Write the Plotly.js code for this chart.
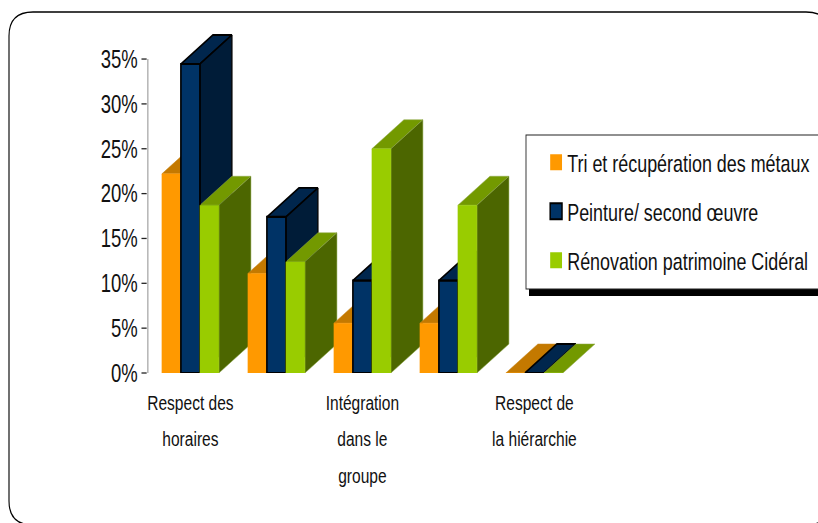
<!DOCTYPE html>
<html><head><meta charset="utf-8">
<script src="https://cdn.plot.ly/plotly-3.0.1.min.js"></script>
<style>html,body{margin:0;padding:0;background:#fff;overflow:hidden;width:818px;height:523px}
#c{width:1105px;height:523px;transform:scaleX(0.74027);transform-origin:0 0}</style>
</head><body><div id="c"></div>
<script>
const W = 818, H = 523, LAYOUT_W = 1105;
const catIdx = [0, 1, 2, 3, 4];
const tickVals = [0, 2, 4];
const yTicks = [0, 5, 10, 15, 20, 25, 30, 35];
const yTickText = ["0%", "5%", "10%", "15%", "20%", "25%", "30%", "35%"];
const tickLines = [["Respect des", "horaires"], ["Intégration", "dans le", "groupe"], ["Respect de", "la hiérarchie"]];
const seriesNames = ["Tri et récupération des métaux", "Peinture/ second œuvre", "Rénovation patrimoine Cidéral"];
const orange = [22.2, 11.1, 5.55, 5.55, 0];
const navy = [34.45, 17.4, 10.3, 10.3, 0];
const green = [18.7, 12.4, 25, 18.7, 0];
const colFront = ["#FF9900", "#003366", "#99CC00"];
const colTop = ["#C47900", "#00264D", "#739900"];
const colSide = ["#7F4C00", "#001C38", "#4C6600"];
const colEdge = ["#C98A20", "#000000", "#8FA84A"];
const edgeW = [0.6, 1.8, 0.6];
const seriesVals = [orange, navy, green];

const barW = 0.221, depthX = 32 / 86, depthY = 29 / 8.97;
const FONT = '"Liberation Sans",Arial,sans-serif';
const traces = [];
catIdx.forEach(c => {
  seriesVals.forEach((vals, s) => {
    const x0 = c + (s - 1.5) * barW, x1 = x0 + barW, v = vals[c];
    traces.push({type:'scatter', mode:'lines', fill:'toself', fillcolor:colTop[s], hoverinfo:'skip', showlegend:false,
      line:{color:colEdge[s], width:edgeW[s]},
      x:[x0, x1, x1+depthX, x0+depthX, x0], y:[v, v, v+depthY, v+depthY, v]});
    if (v > 0) traces.push({type:'scatter', mode:'lines', fill:'toself', fillcolor:colSide[s], hoverinfo:'skip', showlegend:false,
      line:{color:colEdge[s], width:edgeW[s]},
      x:[x1, x1+depthX, x1+depthX, x1, x1], y:[0, depthY, v+depthY, v, 0]});
  });
});
seriesVals.forEach((vals, s) => {
  traces.push({type:'bar', name:seriesNames[s], x:catIdx, y:vals, xaxis:'x2', yaxis:'y2', showlegend:false, cliponaxis:false,
    marker:{color:colFront[s], line:{color:s===1?'#000000':colFront[s], width:s===1?2.2:0.5}}});
});
seriesVals.forEach((vals, s) => {
  traces.push({type:'scatter', mode:'markers', name:seriesNames[s], x:[null], y:[null], legendgroup:'g'+s, hoverinfo:'skip',
    marker:{symbol:'square', size:s===1?17:19, angle:90, standoff:5, color:colFront[s], line:{color:s===1?'#000':colFront[s], width:s===1?2:0}}});
});
const lineSize = 21;
const tickText = tickLines.map(ls => ls.map(l => `<span style="font-size:${lineSize}px">${l}</span>`).join('<br>'));
const xRange = [-0.5, 4.9], yRange = [0, 38.5];
const pxPerCat = 86, pxPerUnit = 8.97;
const xDomain = [147.4/W, (147.4 + (xRange[1]-xRange[0])*pxPerCat)/W];
const yDomain = [1-373/H, 1-(373 - yRange[1]*pxPerUnit)/H];
const fx = p => p/W, fy = p => 1-p/H;
const layout = {
  width:LAYOUT_W, height:H, margin:{l:0,r:0,t:0,b:0,pad:0,autoexpand:false}, paper_bgcolor:'#fff', plot_bgcolor:'rgba(0,0,0,0)',
  barmode:'group', bargap:0.337, bargroupgap:0,
  font:{family:FONT, color:'#111'},
  xaxis:{domain:xDomain, range:xRange, tickmode:'array', tickvals:tickVals, ticktext:tickText, showline:false, showgrid:false, zeroline:false,
    ticks:'', tickfont:{family:FONT,size:28,color:'#111'}, tickangle:0, ticklabelstandoff:8},
  yaxis:{domain:yDomain, range:yRange, tickmode:'array', tickvals:yTicks, ticktext:yTickText, showline:false, showgrid:false, zeroline:false,
    ticks:'outside', ticklen:7, tickwidth:1.3, tickcolor:'#222', tickfont:{family:FONT,size:25,color:'#111'}},
  xaxis2:{overlaying:'x', matches:'x', domain:xDomain, visible:false, anchor:'y2'},
  yaxis2:{overlaying:'y', matches:'y', domain:yDomain, visible:false, anchor:'x2'},
  showlegend:true,
  legend:{x:fx(526+19), xanchor:'left', y:fy(140), yanchor:'top', traceorder:'grouped', tracegroupgap:14.5, indentation:-10, bgcolor:'rgba(0,0,0,0)', borderwidth:0,
    font:{family:FONT,size:24.2,color:'#111'}, itemclick:false, itemdoubleclick:false},
  shapes:[
    {type:'line', xref:'x', yref:'y', x0:-0.5, x1:-0.5, y0:0, y1:35, line:{color:'#8a8a8a', width:2.6}, layer:'below'},
    {type:'rect', xref:'paper', yref:'paper', x0:fx(529), x1:1.02, y0:fy(296), y1:fy(280), fillcolor:'#000', line:{width:0}, layer:'below'},
    {type:'rect', xref:'paper', yref:'paper', x0:fx(526), x1:fx(830), y0:fy(289), y1:fy(135), fillcolor:'#fff', line:{color:'#222',width:1.2}, layer:'below'},
    {type:'path', xref:'paper', yref:'paper', layer:'below', line:{color:'#000',width:1.5}, fillcolor:'rgba(0,0,0,0)',
      path:`M ${fx(9)} ${fy(36)} Q ${fx(9)} ${fy(12)} ${fx(33)} ${fy(12)} L ${fx(806)} ${fy(12)} Q ${fx(830)} ${fy(12)} ${fx(830)} ${fy(36)} L ${fx(830)} ${fy(501)} Q ${fx(830)} ${fy(525)} ${fx(806)} ${fy(525)} L ${fx(33)} ${fy(525)} Q ${fx(9)} ${fy(525)} ${fx(9)} ${fy(501)} Z`}
  ]
};
Plotly.newPlot('c', traces, layout, {displayModeBar:false, staticPlot:true});
</script></body></html>
